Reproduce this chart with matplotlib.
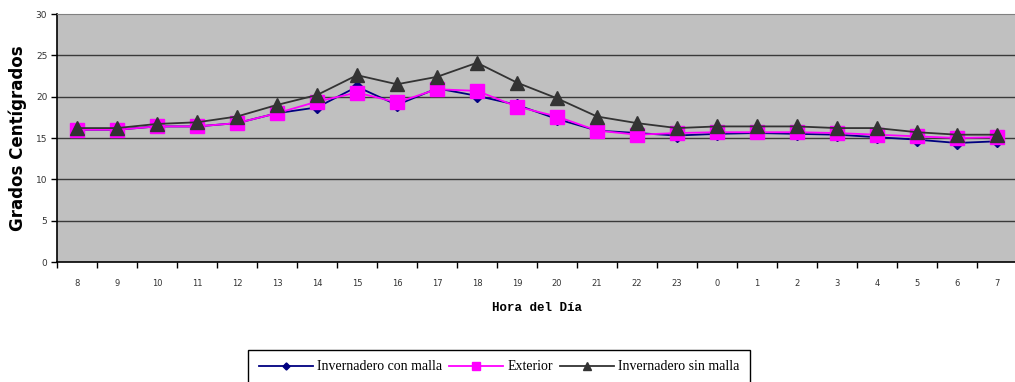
import numpy as np
import matplotlib
matplotlib.use('Agg')
import matplotlib.pyplot as plt

hours = ['8', '9', '10', '11', '12', '13', '14', '15', '16', '17', '18', '19',
         '20', '21', '22', '23', '0', '1', '2', '3', '4', '5', '6', '7']

con_malla = [16.0, 16.0, 16.4, 16.4, 16.8, 18.0, 18.7, 21.2, 19.0, 21.0, 20.1, 19.0,
             17.3, 15.9, 15.6, 15.3, 15.5, 15.6, 15.5, 15.4, 15.1, 14.8, 14.4, 14.6]
exterior = [16.0, 16.0, 16.4, 16.4, 16.8, 18.0, 19.4, 20.5, 19.3, 20.9, 20.7, 18.8,
            17.6, 15.9, 15.4, 15.6, 15.7, 15.7, 15.7, 15.6, 15.4, 15.2, 15.0, 15.1]
sin_malla = [16.2, 16.2, 16.7, 16.9, 17.6, 19.0, 20.2, 22.6, 21.5, 22.4, 24.1, 21.7,
             19.8, 17.6, 16.8, 16.2, 16.4, 16.4, 16.4, 16.2, 16.2, 15.7, 15.4, 15.4]

fig = plt.figure(figsize=(10.15, 3.82), dpi=100)
ax = fig.add_axes([57 / 1015, 1 - 262 / 382, 960 / 1015, 248 / 382])
ax.set_facecolor('#C0C0C0')

x = np.arange(len(hours))
ax.plot(x, con_malla, color='#000080', marker='D', markersize=6, lw=1.3,
        label='Invernadero con malla', zorder=3)
ax.plot(x, exterior, color='#FF00FF', marker='s', markersize=10, lw=1.3,
        label='Exterior', zorder=4)
ax.plot(x, sin_malla, color='#333333', marker='^', markersize=10, lw=1.3,
        label='Invernadero sin malla', zorder=5)

ax.set_xlim(-0.5, len(hours) - 0.5)
ax.set_ylim(0, 30)
ax.set_yticks(range(0, 31, 5))
for v in range(5, 30, 5):
    ax.axhline(v, color='#3a3a3a', lw=1.0, zorder=1)

ax.set_xticks(np.arange(-0.5, len(hours), 1.0))
ax.set_xticklabels([])
ax.set_xticks(x, minor=True)
ax.set_xticklabels(hours, minor=True)
ax.tick_params(axis='x', which='minor', length=0, pad=12, labelsize=6, labelcolor='#333333')
ax.tick_params(axis='x', which='major', length=4, width=1, color='black')
ax.tick_params(axis='y', length=4, width=1, labelsize=6.5, labelcolor='#333333', pad=3)

for s in ['top', 'right']:
    ax.spines[s].set_color('#808080')
ax.spines['left'].set_linewidth(1.2)
ax.spines['bottom'].set_linewidth(1.2)

ax.set_ylabel('Grados Centígrados', fontsize=12, fontweight='black',
              family='DejaVu Sans', ha='center', va='center')
ax.yaxis.set_label_coords((18 - 57) / 960, 0.5)
ax.set_xlabel('Hora del Día', fontsize=9, fontweight='bold',
              family='Liberation Mono', labelpad=10)

fig.legend(loc='upper center', bbox_to_anchor=(499 / 1015, 1 - 350 / 382), ncol=3,
           frameon=True, fancybox=False, edgecolor='black', framealpha=1,
           prop={'family': 'Liberation Serif', 'size': 10},
           markerscale=0.6, handlelength=3.9, handletextpad=0.3, columnspacing=0.5,
           borderpad=0.75, borderaxespad=0)

fig.savefig('out.png', dpi=100)
